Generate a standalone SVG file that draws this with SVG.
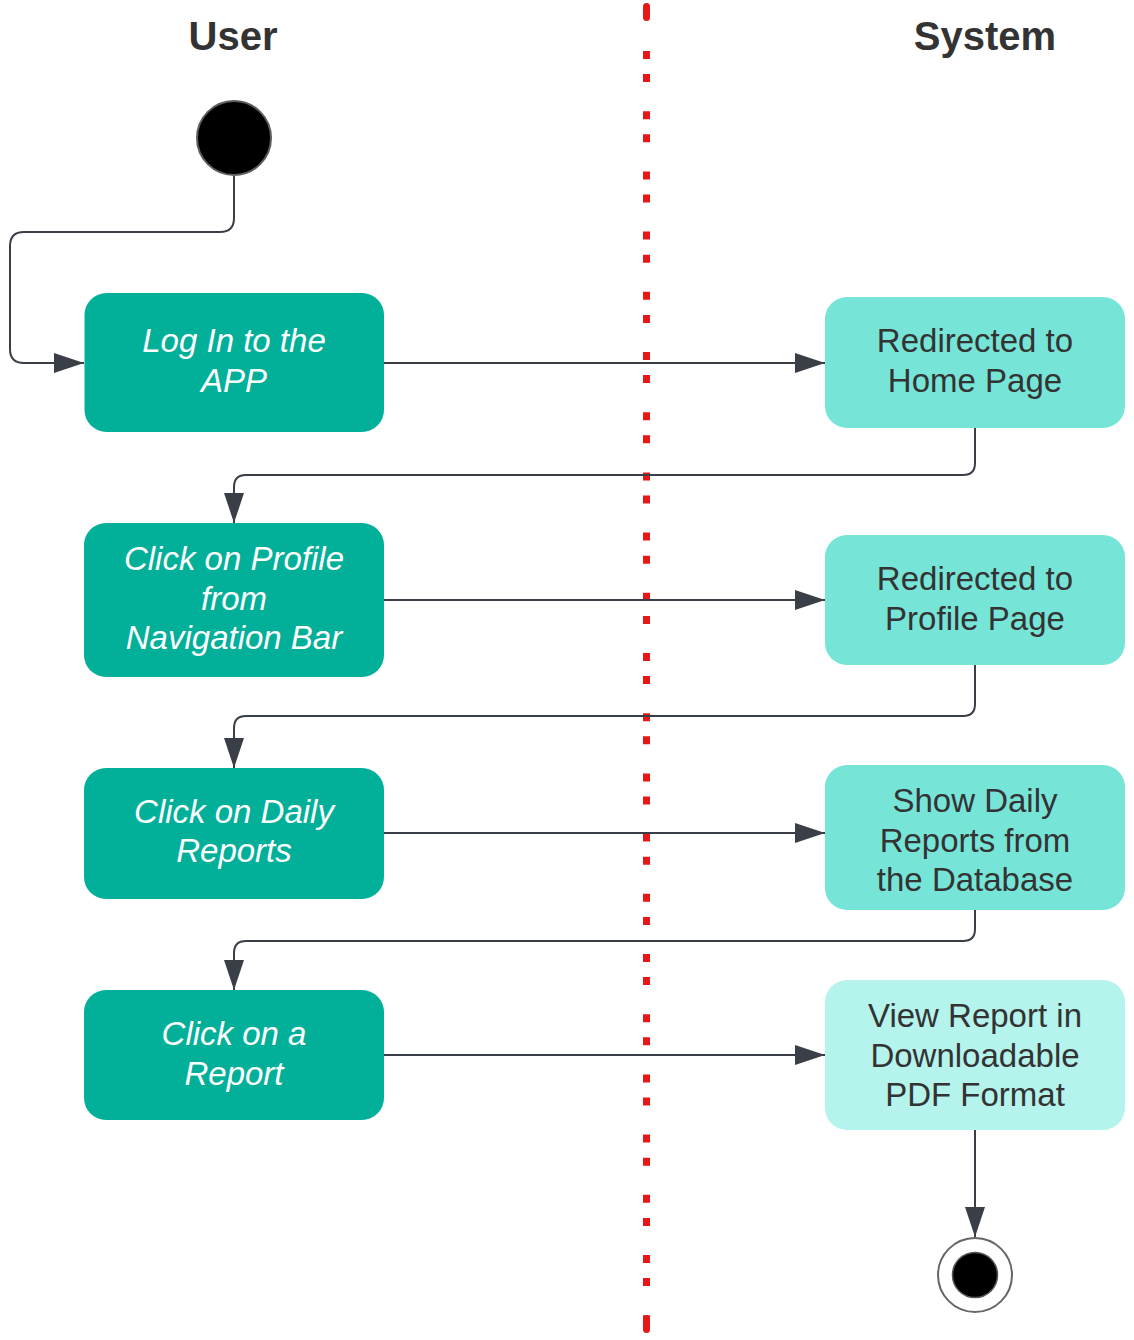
<svg xmlns="http://www.w3.org/2000/svg" width="1134" height="1340" viewBox="0 0 1134 1340">
<style>
.hdr{font-family:"Liberation Sans",Arial,sans-serif;font-weight:bold;font-size:40px;fill:#333333;text-anchor:middle}
.lt{font-family:"Liberation Sans",Arial,sans-serif;font-style:italic;font-size:33px;fill:#ffffff;text-anchor:middle}
.rt{font-family:"Liberation Sans",Arial,sans-serif;font-size:33px;fill:#333333;text-anchor:middle}
.lbox{fill:#02b09a}
.rbox{fill:#76e5d8}
.rbox2{fill:#b5f4ec}
.conn{fill:none;stroke:#3a3e47;stroke-width:2}
</style>
<defs>
<marker id="arr" markerWidth="30" markerHeight="20" refX="30" refY="10" orient="auto" markerUnits="userSpaceOnUse">
<path d="M0,0 L30,10 L0,20 Z" fill="#3a3e47"/>
</marker>
</defs>
<rect width="1134" height="1340" fill="#ffffff"/>
<g id="swimlane-divider">
<line x1="646.5" y1="51" x2="646.5" y2="1323" stroke="#e81717" stroke-width="7" stroke-dasharray="8 15.1 8 29.1"/>
<rect x="643" y="3" width="7" height="18" rx="3.5" fill="#e81717"/>
<rect x="643" y="1315" width="7" height="18" rx="3.5" fill="#e81717"/>
</g>
<g id="headers">
<text class="hdr" x="233" y="50">User</text>
<text class="hdr" x="985" y="50">System</text>
</g>
<g id="connectors">
<path class="conn" d="M234,176 V218 Q234,232 220,232 H24 Q10,232 10,246 V349 Q10,363 24,363 H84" marker-end="url(#arr)" stroke="#333333"/>
<path class="conn" d="M384,363 H825" marker-end="url(#arr)"/>
<path class="conn" d="M975,428 V463 Q975,475 963,475 H246 Q234,475 234,487 V523" marker-end="url(#arr)"/>
<path class="conn" d="M384,600 H825" marker-end="url(#arr)"/>
<path class="conn" d="M975,665 V704 Q975,716 963,716 H246 Q234,716 234,728 V768" marker-end="url(#arr)"/>
<path class="conn" d="M384,833 H825" marker-end="url(#arr)"/>
<path class="conn" d="M975,910 V929 Q975,941 963,941 H246 Q234,941 234,953 V990" marker-end="url(#arr)"/>
<path class="conn" d="M384,1055 H825" marker-end="url(#arr)"/>
<path class="conn" d="M975,1130 V1237" marker-end="url(#arr)" stroke="#333333"/>
</g>
<g id="start">
<circle cx="234" cy="138" r="37" fill="#000000" stroke="#5e5e5e" stroke-width="2"/>
</g>
<g id="login">
<rect class="lbox" x="84.5" y="293" width="299.5" height="139" rx="22"/>
<text class="lt" x="234" y="352">Log In to the</text>
<text class="lt" x="234" y="392">APP</text>
</g>
<g id="home">
<rect class="rbox" x="825" y="297" width="300" height="131" rx="22"/>
<text class="rt" x="975" y="352">Redirected to</text>
<text class="rt" x="975" y="392">Home Page</text>
</g>
<g id="profile-click">
<rect class="lbox" x="84" y="523" width="300" height="154" rx="22"/>
<text class="lt" x="234" y="570">Click on Profile</text>
<text class="lt" x="234" y="610">from</text>
<text class="lt" x="234" y="649">Navigation Bar</text>
</g>
<g id="profile-page">
<rect class="rbox" x="825" y="535" width="300" height="130" rx="22"/>
<text class="rt" x="975" y="590">Redirected to</text>
<text class="rt" x="975" y="630">Profile Page</text>
</g>
<g id="daily-click">
<rect class="lbox" x="84" y="768" width="300" height="131" rx="22"/>
<text class="lt" x="234" y="823">Click on Daily</text>
<text class="lt" x="234" y="862">Reports</text>
</g>
<g id="daily-show">
<rect class="rbox" x="825" y="765" width="300" height="145" rx="22"/>
<text class="rt" x="975" y="812">Show Daily</text>
<text class="rt" x="975" y="852">Reports from</text>
<text class="rt" x="975" y="891">the Database</text>
</g>
<g id="report-click">
<rect class="lbox" x="84" y="990" width="300" height="130" rx="22"/>
<text class="lt" x="234" y="1045">Click on a</text>
<text class="lt" x="234" y="1085">Report</text>
</g>
<g id="report-view">
<rect class="rbox2" x="825" y="980" width="300" height="150" rx="22"/>
<text class="rt" x="975" y="1027">View Report in</text>
<text class="rt" x="975" y="1067">Downloadable</text>
<text class="rt" x="975" y="1106">PDF Format</text>
</g>
<g id="end">
<circle cx="975" cy="1275" r="37" fill="#ffffff" stroke="#666666" stroke-width="2"/>
<circle cx="975" cy="1275" r="22.5" fill="#000000" stroke="#555555" stroke-width="1.5"/>
</g>
</svg>
